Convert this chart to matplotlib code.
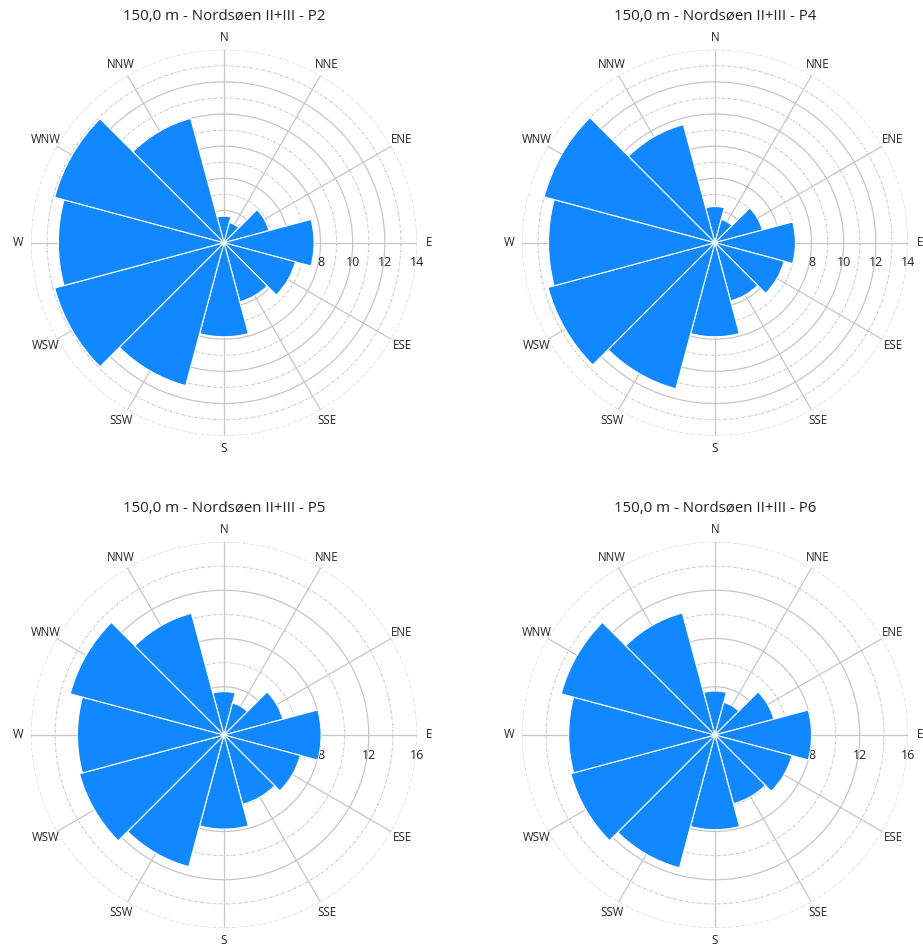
import numpy as np
import matplotlib
matplotlib.use("Agg")
import matplotlib.pyplot as plt

plt.rcParams["font.family"] = ["Open Sans", "DejaVu Sans"]

# ------------------------------------------------------------
# Data (frequency per direction sector, %)
# ------------------------------------------------------------
DIRECTIONS = ["N", "NNE", "ENE", "E", "ESE", "SSE",
              "S", "SSW", "WSW", "W", "WNW", "NNW"]

P2 = [3.65, 3.3, 4.9, 7.6, 6.6, 5.8, 7.85, 11.2, 12.9, 12.3, 12.9, 10.0]
P4 = [4.25, 3.5, 5.05, 7.0, 6.45, 5.75, 7.85, 11.4, 12.75, 12.35, 13.0, 9.6]
P5 = [3.6, 2.75, 5.05, 8.05, 6.55, 5.95, 7.8, 11.3, 12.4, 12.15, 13.2, 10.45]
P6 = [3.65, 2.8, 5.05, 8.0, 6.6, 5.9, 7.85, 11.4, 12.37, 12.13, 13.2, 10.47]

TITLES = ["150,0 m - Nordsøen II+III - P2", "150,0 m - Nordsøen II+III - P4",
          "150,0 m - Nordsøen II+III - P5", "150,0 m - Nordsøen II+III - P6"]

# radial axis settings: (min, max, major, minor)
AXIS_TOP = (2, 14, 2, 1)
AXIS_BOTTOM = (0, 16, 4, 2)

BAR_COLOR = "#1188ff"
GRID_COLOR = "#c6c6c6"
TEXT_COLOR = "#222222"

W_PX, H_PX = 923, 949
RADIUS_PX = 193
CENTERS = [(224, 242.7), (715, 242.7), (224, 735), (715, 735)]


def axes_rect(cx, cy):
    return [(cx - RADIUS_PX) / W_PX, (H_PX - cy - RADIUS_PX) / H_PX,
            2 * RADIUS_PX / W_PX, 2 * RADIUS_PX / H_PX]


def draw_rose(fig, rect, values, title, axis_cfg):
    rmin, rmax, major, minor = axis_cfg
    ax = fig.add_axes(rect, projection="polar")
    ax.set_theta_zero_location("N")
    ax.set_theta_direction(-1)
    ax.set_ylim(rmin, rmax)
    ax.spines["polar"].set_visible(False)
    ax.set_axisbelow(True)

    theta = np.deg2rad(np.arange(len(DIRECTIONS)) * 360 / len(DIRECTIONS))
    width = 2 * np.pi / len(DIRECTIONS)
    vals = np.asarray(values, dtype=float)

    # spokes + direction labels
    ax.set_thetagrids(np.rad2deg(theta), DIRECTIONS)
    ax.tick_params(axis="x", pad=-1.5, labelsize=8.3, labelcolor=TEXT_COLOR)
    ax.xaxis.grid(True, color=GRID_COLOR, linewidth=0.9)
    ax.yaxis.grid(False)
    ax.set_yticks([])

    # circular gridlines: solid major, dotted minor / outer
    circle = np.linspace(0, 2 * np.pi, 400)
    for r in np.arange(rmin + minor, rmax + 0.001, minor):
        is_major = abs(r % major) < 1e-6 and r < rmax
        ax.plot(circle, np.full_like(circle, r),
                color=GRID_COLOR if is_major else "#c9c9c9",
                linewidth=0.9 if is_major else 0.8,
                linestyle="-" if is_major else (0, (2.5, 1.2, 0.8, 1.2)),
                zorder=0.5)

    # value labels under the E axis
    for r in np.arange(rmin + major, rmax + 0.001, major):
        ax.annotate(f"{r:g}", xy=(np.pi / 2, r), xytext=(0, -14.5),
                    textcoords="offset points", ha="center", va="center",
                    fontsize=9, color=TEXT_COLOR, zorder=0.6,
                    annotation_clip=False)

    ax.bar(theta, vals - rmin, width=width, bottom=rmin,
           color=BAR_COLOR, edgecolor="white", linewidth=0.8, zorder=2)

    ax.set_title(title, fontsize=10.8, color=TEXT_COLOR, pad=21.5)
    return ax


fig = plt.figure(figsize=(W_PX / 100, H_PX / 100), dpi=100)

series = [P2, P4, P5, P6]
configs = [AXIS_TOP, AXIS_TOP, AXIS_BOTTOM, AXIS_BOTTOM]
for (cx, cy), vals, title, cfg in zip(CENTERS, series, TITLES, configs):
    draw_rose(fig, axes_rect(cx, cy), vals, title, cfg)

fig.savefig("out.png", dpi=100, facecolor="white")
